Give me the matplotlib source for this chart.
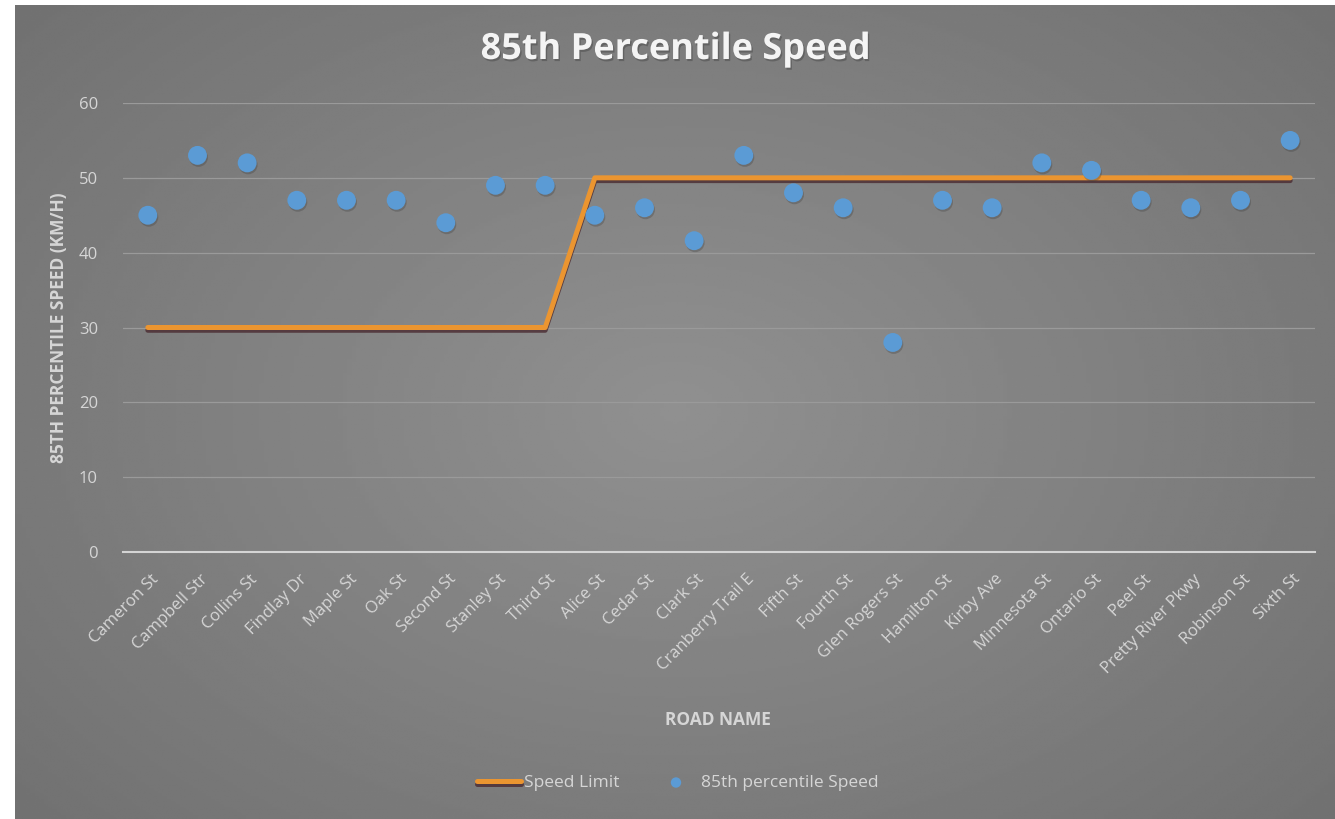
import numpy as np
import matplotlib
matplotlib.use("Agg")
import matplotlib.pyplot as plt
import matplotlib.patheffects as pe
from matplotlib.transforms import ScaledTranslation

# données
roads = ["Cameron St", "Campbell Str", "Collins St", "Findlay Dr", "Maple St", "Oak St",
         "Second St", "Stanley St", "Third St", "Alice St", "Cedar St", "Clark St",
         "Cranberry Trail E", "Fifth St", "Fourth St", "Glen Rogers St", "Hamilton St",
         "Kirby Ave", "Minnesota St", "Ontario St", "Peel St", "Pretty River Pkwy",
         "Robinson St", "Sixth St"]
speed_85 = [45, 53, 52, 47, 47, 47, 44, 49, 49, 45, 46, 41.6, 53, 48, 46, 28, 47, 46,
            52, 51, 47, 46, 47, 55]
speed_limit = [30]*9 + [50]*15
yticks = [0, 10, 20, 30, 40, 50, 60]

plt.rcParams['font.family'] = ['Open Sans', 'DejaVu Sans']
txt = '#d6d6d6'

fig = plt.figure(figsize=(13.35, 8.19), dpi=100)
fig.patch.set_facecolor('white')

# fond gris en dégradé radial
bg = fig.add_axes([15/1335, 0, 1320/1335, 814/819])
yy, xx = np.mgrid[-1:1:300j, -1:1:300j]
r = np.sqrt(xx**2 + (yy*0.9)**2)
bg.imshow(0.565 - 0.09*r, cmap='gray', vmin=0, vmax=1, aspect='auto',
          extent=[0, 1, 0, 1])
bg.set_axis_off()

ax = fig.add_axes([123/1335, 1-552/819, (1315-123)/1335, (552-103)/819])
ax.set_facecolor('none')
x = np.arange(len(roads))

ax.plot(x, speed_limit, color='#eb9530', lw=3.6, solid_capstyle='round', zorder=3,
        label='Speed Limit',
        path_effects=[pe.SimpleLineShadow(offset=(0, -2), shadow_color='#4a2a30', alpha=0.8),
                      pe.Normal()])
# ombre des points
shadow = ScaledTranslation(1/100, -2/100, fig.dpi_scale_trans)
ax.scatter(x, speed_85, s=185, color='#3a3a3a', alpha=0.3, zorder=3.5, edgecolors='none',
           transform=ax.transData + shadow)
ax.scatter(x, speed_85, s=185, color='#5b9bd5', zorder=4, label='85th percentile Speed',
           edgecolors='none')

ax.set_xlim(-0.5, len(roads) - 0.5)
ax.set_ylim(0, 60)
ax.set_yticks(yticks)
ax.grid(axis='y', color='#9a9a9a', lw=0.9)
ax.set_axisbelow(True)
for s in ['top', 'right', 'left']:
    ax.spines[s].set_visible(False)
ax.spines['bottom'].set_color('#d4d4d4')
ax.spines['bottom'].set_linewidth(1.5)
ax.tick_params(axis='both', length=0, colors=txt, labelsize=12)
ax.tick_params(axis='y', pad=18)
ax.set_xticks(x)
ax.set_xticklabels(roads, rotation=45, ha='right', va='center', rotation_mode='anchor')
off = ScaledTranslation(8/100, -20/100, fig.dpi_scale_trans)
for lab in ax.get_xticklabels():
    lab.set_transform(lab.get_transform() + off)

ax.set_ylabel('85TH PERCENTILE SPEED (KM/H)', color=txt, fontsize=12.5, fontweight='bold',
              labelpad=8)
fig.text(718/1335, 1-720/819, 'ROAD NAME', color=txt, fontsize=12.5, fontweight='bold',
         ha='center', va='center')
fig.text(676/1335, 1-50/819, '85th Percentile Speed', color='#f4f4f4', fontsize=26,
         fontweight='bold', ha='center', va='center',
         path_effects=[pe.withSimplePatchShadow(offset=(1, -1.5), alpha=0.5)])

leg = fig.legend(loc='center', bbox_to_anchor=(678/1335, 1-783/819), ncol=2, frameon=False,
                 fontsize=12.5, labelcolor=txt, handlelength=2.5, columnspacing=2.0,
                 handletextpad=0.2, markerscale=0.55)

fig.savefig('out.png', dpi=100)
